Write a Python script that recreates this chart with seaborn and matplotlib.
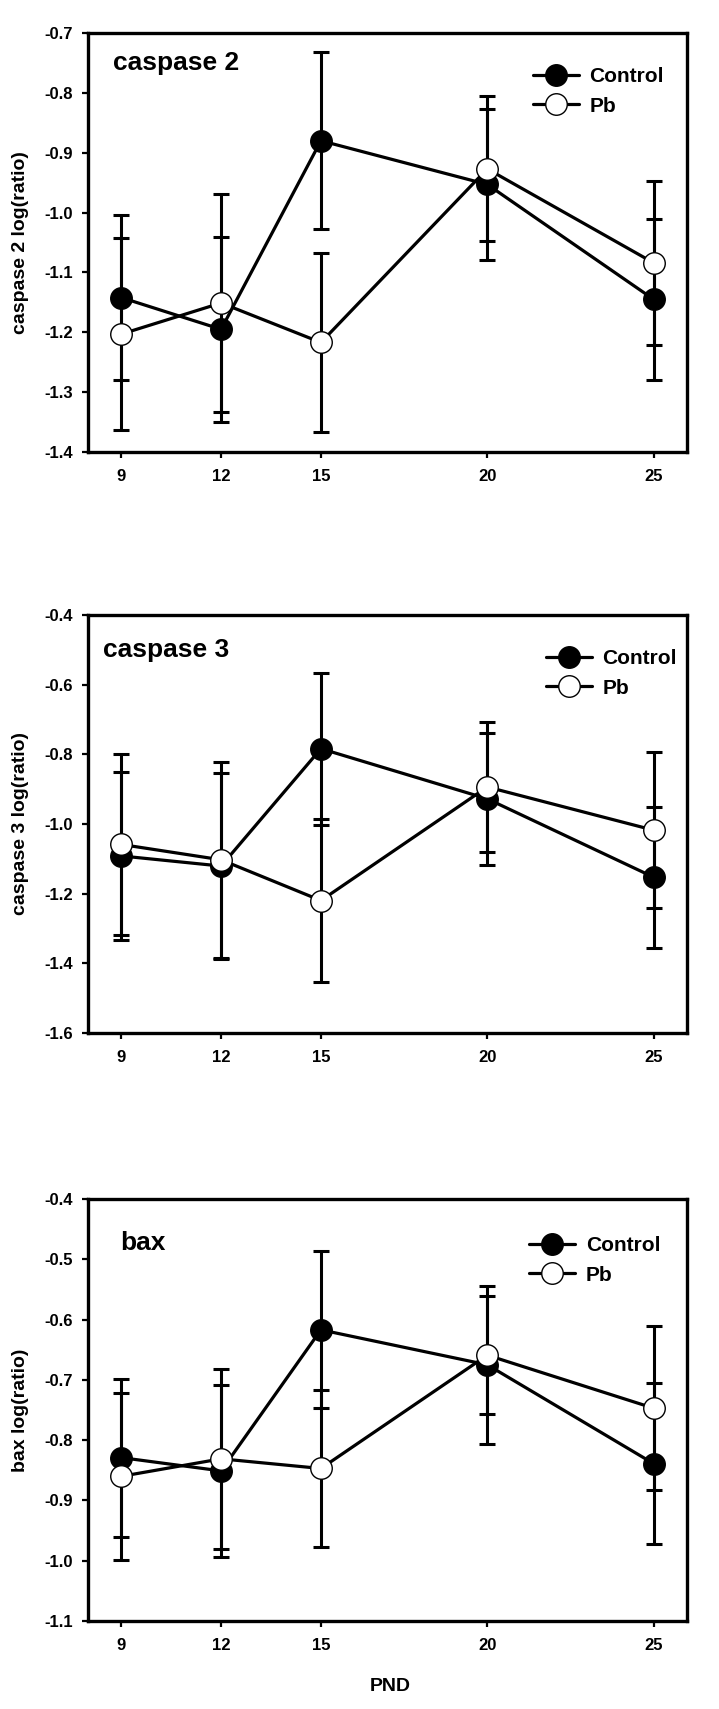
import numpy as np
import pandas as pd
import seaborn as sns
import matplotlib
matplotlib.use("Agg")
import matplotlib.pyplot as plt
from matplotlib import font_manager

# data (mean and +/- error)
pnd = [9, 12, 15, 20, 25]

casp2_ctrl = [-1.142, -1.195, -0.880, -0.953, -1.145]
casp2_ctrl_err = [0.138, 0.155, 0.148, 0.126, 0.135]
casp2_pb = [-1.203, -1.151, -1.217, -0.927, -1.084]
casp2_pb_err = [0.160, 0.182, 0.149, 0.121, 0.137]

casp3_ctrl = [-1.092, -1.121, -0.784, -0.928, -1.153]
casp3_ctrl_err = [0.240, 0.268, 0.218, 0.190, 0.202]
casp3_pb = [-1.059, -1.103, -1.220, -0.894, -1.018]
casp3_pb_err = [0.261, 0.281, 0.234, 0.187, 0.224]

bax_ctrl = [-0.829, -0.851, -0.617, -0.675, -0.839]
bax_ctrl_err = [0.131, 0.143, 0.130, 0.131, 0.134]
bax_pb = [-0.860, -0.831, -0.847, -0.659, -0.747]
bax_pb_err = [0.139, 0.149, 0.130, 0.098, 0.136]

titles = ["caspase 2", "caspase 3", "bax"]
ylabels = ["caspase 2 log(ratio)", "caspase 3 log(ratio)", "bax log(ratio)"]
yticks = [np.arange(-1.4, -0.69, 0.1), np.arange(-1.6, -0.39, 0.2), np.arange(-1.1, -0.39, 0.1)]

sns.set_style("ticks")
plt.rcParams['font.family'] = ['Liberation Sans', 'DejaVu Sans']
plt.rcParams['axes.unicode_minus'] = False
for k in ['text.color', 'axes.labelcolor', 'xtick.color', 'ytick.color', 'axes.edgecolor']:
    plt.rcParams[k] = 'black'

names = {f.name for f in font_manager.fontManager.ttflist}
narrow = 'Liberation Sans Narrow' if 'Liberation Sans Narrow' in names else 'Liberation Sans'

fig = plt.figure(figsize=(7.19, 17.09), dpi=100)

# axes boxes in figure fraction
boxes = [(0.1224, 0.7355, 0.833, 0.2452),
         (0.1224, 0.3956, 0.833, 0.2446),
         (0.1224, 0.0515, 0.833, 0.2469)]
title_pos = [(0.042, 0.928), (0.025, 0.916), (0.053, 0.895)]
leg_pos = [(0.743, 0.918), (0.765, 0.918), (0.737, 0.912)]

panels = [
    (casp2_ctrl, casp2_ctrl_err, casp2_pb, casp2_pb_err),
    (casp3_ctrl, casp3_ctrl_err, casp3_pb, casp3_pb_err),
    (bax_ctrl, bax_ctrl_err, bax_pb, bax_pb_err),
]

for i, (c, ce, p, pe) in enumerate(panels):
    ax = fig.add_axes(boxes[i])
    df = pd.DataFrame({"PND": pnd * 2, "value": c + p,
                       "group": ["Control"] * 5 + ["Pb"] * 5})

    # error bars underneath the markers
    ax.errorbar(pnd, c, yerr=ce, fmt="none", ecolor="black", elinewidth=2.2,
                capsize=5.5, capthick=2.2, zorder=1)
    ax.errorbar(pnd, p, yerr=pe, fmt="none", ecolor="black", elinewidth=2.2,
                capsize=5.5, capthick=2.2, zorder=1)

    sns.lineplot(data=df[df.group == "Control"], x="PND", y="value", ax=ax,
                 color="black", marker="o", markersize=15.5, markerfacecolor="black",
                 markeredgecolor="black", markeredgewidth=1, linewidth=2.3,
                 label="Control", zorder=3)
    sns.lineplot(data=df[df.group == "Pb"], x="PND", y="value", ax=ax,
                 color="black", marker="o", markersize=15.5, markerfacecolor="white",
                 markeredgecolor="black", markeredgewidth=1, linewidth=2.3,
                 label="Pb", zorder=3)

    ax.set_xlim(8, 26)
    ax.set_xticks(pnd)
    ax.set_xticklabels([str(v) for v in pnd])
    yt = yticks[i]
    ax.set_ylim(yt[0], yt[-1])
    ax.set_yticks(yt)
    ax.set_yticklabels(["%.1f" % v for v in yt])

    for s in ax.spines.values():
        s.set_linewidth(2.4)
        s.set_color("black")
    ax.tick_params(direction="out", length=4, width=1.6, color="black", labelsize=12)
    ax.tick_params(axis="x", pad=8.5)
    ax.tick_params(axis="y", pad=7)
    for lab in ax.get_xticklabels() + ax.get_yticklabels():
        lab.set_fontweight("bold")

    ax.set_ylabel(ylabels[i], fontsize=14, fontweight="bold")
    ax.yaxis.set_label_coords(-0.098, 0.5)
    if i == 2:
        ax.set_xlabel("PND", family=narrow, fontsize=14, fontweight="bold")
        ax.xaxis.set_label_coords(0.504, -0.135)
    else:
        ax.set_xlabel("")

    ax.text(title_pos[i][0], title_pos[i][1], titles[i], transform=ax.transAxes,
            family=narrow, fontsize=19, fontweight="bold", va="center", ha="left")

    leg = ax.legend(loc="upper left", bbox_to_anchor=leg_pos[i], frameon=False,
                    handlelength=2.2, handletextpad=0.5, labelspacing=0.5,
                    borderaxespad=0, borderpad=0,
                    prop={"family": narrow, "size": 15, "weight": "bold"})

fig.savefig("out.png", dpi=100)
